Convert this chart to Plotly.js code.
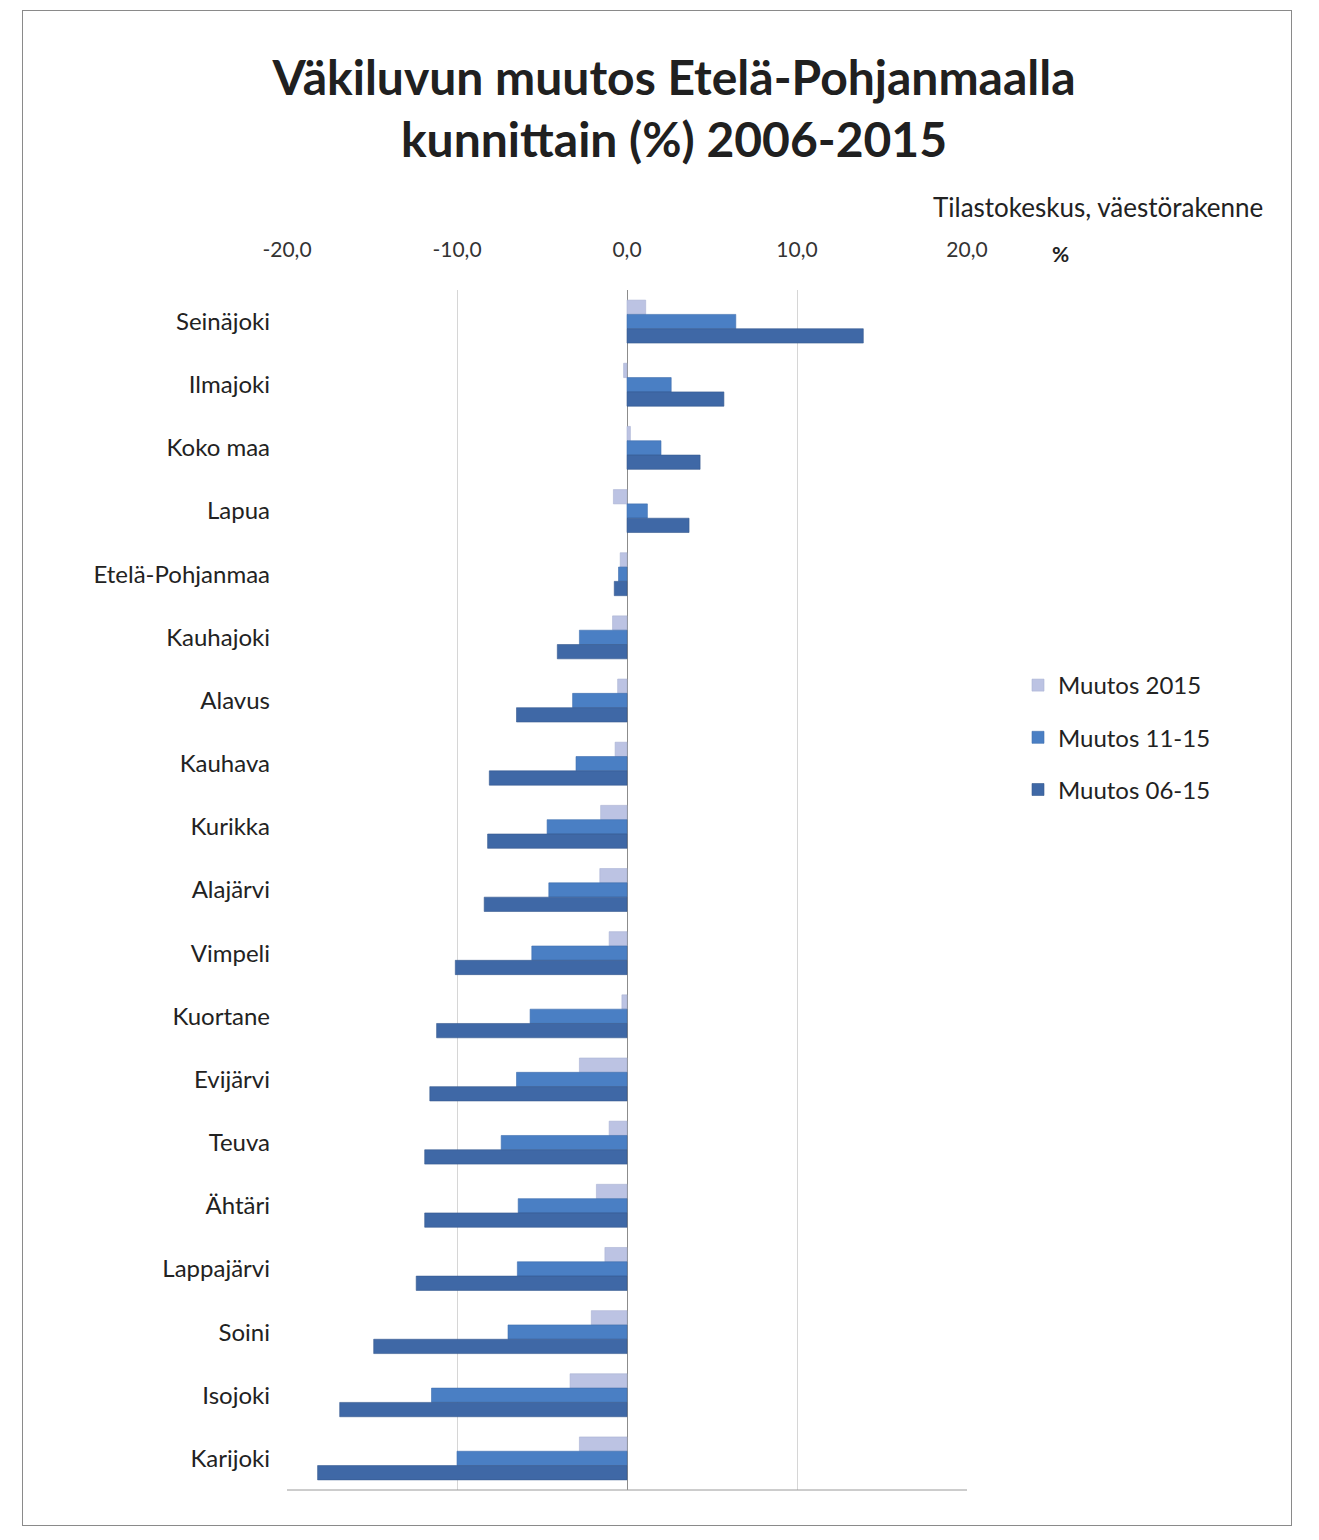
<!DOCTYPE html>
<html>
<head>
<meta charset="utf-8">
<script src="https://cdn.plot.ly/plotly-3.0.1.min.js"></script>
<style>
  html, body { margin: 0; padding: 0; background: #ffffff; }
  #wrap { position: relative; width: 1319px; height: 1540px; }
  #chart { position: absolute; left: 0; top: 0; width: 1319px; height: 1540px; }
  #frame { position: absolute; left: 22px; top: 10px; width: 1268px; height: 1514px;
           border: 1px solid #8a8a8a; pointer-events: none; }
</style>
</head>
<body>
<div id="wrap">
  <div id="chart"></div>
  <div id="frame"></div>
</div>
<script>
// Categories (top to bottom)
const categories = ['Seinäjoki','Ilmajoki','Koko maa','Lapua','Etelä-Pohjanmaa','Kauhajoki','Alavus','Kauhava','Kurikka','Alajärvi','Vimpeli','Kuortane','Evijärvi','Teuva','Ähtäri','Lappajärvi','Soini','Isojoki','Karijoki'];

// Series values (%)
const muutos2015 = [1.1, -0.2, 0.2, -0.8, -0.4, -0.85, -0.55, -0.7, -1.55, -1.6, -1.05, -0.3, -2.8, -1.05, -1.8, -1.3, -2.1, -3.35, -2.8];
const muutos1115 = [6.4, 2.6, 2.0, 1.2, -0.5, -2.8, -3.2, -3.0, -4.7, -4.6, -5.6, -5.7, -6.5, -7.4, -6.4, -6.45, -7.0, -11.5, -10.0];
const muutos0615 = [13.9, 5.7, 4.3, 3.65, -0.75, -4.1, -6.5, -8.1, -8.2, -8.4, -10.1, -11.2, -11.6, -11.9, -11.9, -12.4, -14.9, -16.9, -18.2];

const seriesNames = ['Muutos 2015', 'Muutos 11-15', 'Muutos 06-15'];

// X tick labels
const xTickVals = [-20, -10, 0, 10, 20];
const xTickText = ['-20,0', '-10,0', '0,0', '10,0', '20,0'];

const FONT = 'Lato, Carlito, Calibri, "Open Sans", sans-serif';
const colors = ['#bcc3e3', '#4a7fc4', '#3f68a6'];
const lineColors = ['#a9b1d3', '#3f6fae', '#36598f'];

// plot area geometry (pixels) used to place annotations
const PL = 287, PW = 680, PT = 290, PH = 1200;
const px2x = (px) => (px - PL) / PW;
const px2y = (py) => 1 - (py - PT) / PH;

const seriesValues = [muutos2015, muutos1115, muutos0615];
const traces = seriesValues.map((vals, i) => ({
  type: 'bar',
  orientation: 'h',
  name: seriesNames[i],
  legendgroup: 'g' + i,
  y: categories,
  x: vals,
  marker: { color: colors[i], line: { color: lineColors[i], width: 0.6 } },
  hoverinfo: 'x+y+name'
}));

const layout = {
  width: 1319,
  height: 1540,
  paper_bgcolor: '#ffffff',
  plot_bgcolor: '#ffffff',
  font: { family: FONT, color: '#222222' },
  margin: { l: PL, r: 1319 - PL - PW, t: PT, b: 1540 - PT - PH },
  barmode: 'group',
  bargap: 0.32,
  bargroupgap: 0,
  showlegend: true,
  title: {
    text: 'Väkiluvun muutos Etelä-Pohjanmaalla<br>kunnittain (%) 2006-2015',
    font: { family: FONT, size: 48, color: '#202020', weight: 'bold' },
    x: 0.511, xref: 'container', xanchor: 'center',
    y: 1 - 95 / 1540, yref: 'container', yanchor: 'middle'
  },
  xaxis: {
    side: 'top',
    range: [-20, 20],
    tickvals: xTickVals,
    ticktext: xTickText,
    tickfont: { family: FONT, size: 21, color: '#333333' },
    ticks: '',
    ticklabelstandoff: 28,
    showgrid: true,
    gridcolor: '#d6d6d6',
    gridwidth: 1,
    zeroline: true,
    zerolinecolor: '#8c8c8c',
    zerolinewidth: 1,
    showline: false,
    fixedrange: true
  },
  yaxis: {
    type: 'category',
    autorange: 'reversed',
    tickfont: { family: FONT, size: 24, color: '#222222' },
    ticks: '',
    ticklabelstandoff: 16,
    showgrid: false,
    zeroline: false,
    showline: false,
    fixedrange: true
  },
  legend: {
    x: px2x(1018), xref: 'paper', xanchor: 'left',
    y: px2y(663), yref: 'paper', yanchor: 'top',
    font: { family: FONT, size: 24, color: '#222222' },
    traceorder: 'grouped',
    tracegroupgap: 18,
    bgcolor: 'rgba(0,0,0,0)'
  },
  annotations: [
    {
      text: 'Tilastokeskus, väestörakenne',
      xref: 'paper', yref: 'paper',
      x: px2x(1265), xanchor: 'right',
      y: px2y(207), yanchor: 'middle',
      showarrow: false,
      font: { family: FONT, size: 26, color: '#222222' }
    },
    {
      text: '%',
      xref: 'paper', yref: 'paper',
      x: px2x(1060), xanchor: 'center',
      y: px2y(254), yanchor: 'middle',
      showarrow: false,
      font: { family: FONT, size: 21, color: '#222222', weight: 'bold' }
    }
  ],
  shapes: [
    {
      type: 'line', xref: 'paper', yref: 'paper',
      x0: 0, x1: 1, y0: 0, y1: 0,
      line: { color: '#9a9a9a', width: 1 }
    }
  ]
};

Plotly.newPlot('chart', traces, layout, { displayModeBar: false, staticPlot: true });
</script>
</body>
</html>
